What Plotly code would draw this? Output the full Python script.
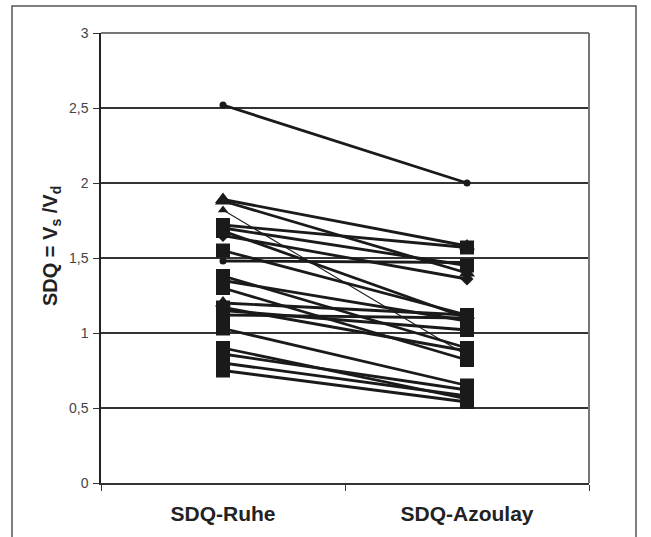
import plotly.graph_objects as go

categories = ["SDQ-Ruhe", "SDQ-Azoulay"]

# SDQ value per patient at rest (Ruhe) and according to Azoulay
sdq_ruhe = [2.52, 1.89, 1.88, 1.82, 1.72, 1.70, 1.65, 1.68, 1.55, 1.48, 1.38,
            1.35, 1.30, 1.20, 1.17, 1.15, 1.12, 1.03, 0.90, 0.86, 0.80, 0.75]
sdq_azoulay = [2.00, 1.58, 1.40, 0.85, 1.57, 1.45, 1.36, 1.10, 1.12, 1.47, 0.90,
               1.08, 0.82, 1.12, 0.88, 1.02, 1.10, 0.65, 0.56, 0.62, 0.58, 0.54]

y_ticks = [0, 0.5, 1, 1.5, 2, 2.5, 3]
y_title = "SDQ = V<sub>s</sub> /V<sub>d</sub>"

# styling (not data)
marker_symbols = ["circle", "triangle-up", "triangle-up", "triangle-up", "square", "square",
                  "diamond", "square", "square", "circle", "square", "square", "square",
                  "triangle-up", "square", "square", "square", "square", "square", "square",
                  "square", "square"]
size_by_symbol = {"circle": 7, "triangle-up": 14, "square": 14, "diamond": 10}

fig = go.Figure()
for i, (a, b) in enumerate(zip(sdq_ruhe, sdq_azoulay)):
    sym = marker_symbols[i]
    size = size_by_symbol[sym]
    width = 2.8
    if i == 3:
        size = 9
        width = 1.1
    fig.add_trace(go.Scatter(
        x=categories, y=[a, b], mode="lines+markers",
        line=dict(color="#1a1a1a", width=width),
        marker=dict(symbol=sym, size=size, color="#1a1a1a"),
        showlegend=False, hoverinfo="y"))

L, R, T, B = 101, 62, 33, 52
W, H = 651, 537
pw, ph = W - L - R, H - T - B

def px(x):
    return (x - L) / pw

def py(y):
    return (H - B - y) / ph

FONT = "Liberation Sans, Arial, sans-serif"

fig.update_layout(
    width=W, height=H, autosize=False,
    margin=dict(l=L, r=R, t=T, b=B, pad=0),
    paper_bgcolor="white", plot_bgcolor="white",
    separators=",.",
    font=dict(family=FONT, color="#222"),
    xaxis=dict(type="category", range=[-0.5, 1.5], tickson="boundaries",
               tickvals=categories,
               ticktext=["<b>" + c + "</b>" for c in categories],
               ticks="outside", ticklen=6, tickcolor="#333", tickwidth=1,
               showgrid=False, showline=True, linecolor="#333", linewidth=1.5,
               tickfont=dict(size=21, color="#222", family=FONT),
               ticklabelstandoff=11, zeroline=False),
    yaxis=dict(range=[0, 3], tickvals=y_ticks, ticks="outside", ticklen=6,
               tickcolor="#333", showgrid=True, gridcolor="#333", gridwidth=1.5,
               showline=True, linecolor="#222", linewidth=1.5, zeroline=False,
               tickfont=dict(size=14, color="#444"), ticklabelstandoff=2),
    annotations=[
        dict(text="<b>" + y_title + "</b>", xref="paper", yref="paper",
             x=px(51), y=py(247), textangle=-90, showarrow=False,
             font=dict(size=20, color="#222", family=FONT),
             xanchor="center", yanchor="middle"),
    ],
    shapes=[
        # plot-area border top/right (gray)
        dict(type="line", xref="paper", yref="paper", x0=0, x1=1, y0=1, y1=1,
             line=dict(color="#777", width=2)),
        dict(type="line", xref="paper", yref="paper", x0=1, x1=1, y0=0, y1=1,
             line=dict(color="#777", width=2)),
        # outer frame
        dict(type="rect", xref="paper", yref="paper",
             x0=px(12), x1=px(636), y0=py(560), y1=py(6),
             line=dict(color="#555", width=1.5), fillcolor="rgba(0,0,0,0)", layer="below"),
    ],
)

fig.write_html("out.html", config={"displayModeBar": False},
               post_script="document.body.style.margin='0';document.body.style.overflow='hidden';")
